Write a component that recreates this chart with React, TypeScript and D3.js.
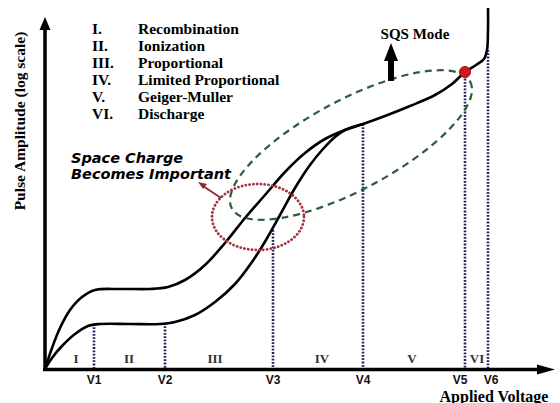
import React from "react";
import * as d3 from "d3";

// ---- data (arbitrary units: x = applied voltage, y = log pulse amplitude) ----
const upperX = [0, 7, 15, 25, 37, 50, 75, 105, 123, 140, 160, 180, 200, 220, 240, 260, 280, 300, 318, 340, 365, 390, 407, 420, 431, 439, 442, 443, 443];
const upperY = [0, 21, 41, 59, 72, 79, 80, 80, 82, 89, 104, 126, 151, 174, 197, 216, 230, 239, 245, 253, 263, 274, 285, 297, 304, 310, 319, 339, 361];
const lowerX = [0, 7, 17, 30, 43, 55, 85, 115, 130, 150, 170, 190, 207, 221, 235, 250, 265, 278, 290, 300, 318];
const lowerY = [0, 11, 23, 35, 43, 45, 45, 45, 47, 54, 67, 85, 107, 129, 154, 181, 204, 220, 232, 239, 245];

const voltLabels = ["V1", "V2", "V3", "V4", "V5", "V6"];
const voltX = [49, 120, 228, 318, 420, 443];
const voltTop = [45, 46, 139, 245, 297, 319];
const voltLabelShift = [0, 0, 0, 0, -5, 3];

const regionLabels = ["I", "II", "III", "IV", "V", "VI"];
const regionX = [31, 84, 170, 277, 367, 432];

const legendNumerals = ["I.", "II.", "III.", "IV.", "V.", "VI."];
const legendNames = ["Recombination", "Ionization", "Proportional", "Limited Proportional", "Geiger-Muller", "Discharge"];

const sqsPoint = { x: 420, y: 297 };
const spaceChargeCircle = { cx: 213, cy: 152, rx: 46, ry: 33 };
const sqsEllipse = { cx: 306, cy: 224, rx: 135, ry: 45, angle: -28 };

const W = 560;
const H = 403;

export default function App() {
  const x = d3.scaleLinear().domain([0, 500]).range([45, 545]);
  const y = d3.scaleLinear().domain([0, 350]).range([369, 19]);

  const line = d3
    .line<[number, number]>()
    .x((d) => x(d[0]))
    .y((d) => y(d[1]))
    .curve(d3.curveCatmullRom.alpha(0.5));

  const upper = line(upperX.map((v, i) => [v, upperY[i]] as [number, number])) || "";
  const lower = line(lowerX.map((v, i) => [v, lowerY[i]] as [number, number])) || "";

  const serif = "'Liberation Serif', 'Times New Roman', serif";
  const sans = "'Liberation Sans', Arial, sans-serif";

  const ex = x(sqsEllipse.cx);
  const ey = y(sqsEllipse.cy);
  const erx = x(sqsEllipse.rx) - x(0);
  const ery = y(0) - y(sqsEllipse.ry);

  const cx = x(spaceChargeCircle.cx);
  const cy = y(spaceChargeCircle.cy);
  const crx = x(spaceChargeCircle.rx) - x(0);
  const cry = y(0) - y(spaceChargeCircle.ry);

  const dotX = x(sqsPoint.x);
  const dotY = y(sqsPoint.y);

  return (
    <svg
      width={W}
      height={H}
      viewBox={`0 0 ${W} ${H}`}
      style={{ position: "fixed", left: 0, top: 0, display: "block", background: "#fff" }}
    >
      <rect x={0} y={0} width={W} height={H} fill="#fff" />

      {/* dotted voltage verticals */}
      {voltX.map((v, i) => (
        <line
          key={"v" + i}
          x1={x(v)}
          x2={x(v)}
          y1={y(voltTop[i])}
          y2={y(0)}
          stroke="#23235a"
          strokeWidth={2.6}
          strokeDasharray="1.8 1.5"
        />
      ))}

      {/* curves */}
      <path d={lower} fill="none" stroke="#000" strokeWidth={2.6} strokeLinejoin="round" />
      <path d={upper} fill="none" stroke="#000" strokeWidth={2.6} strokeLinejoin="round" />

      {/* SQS ellipse */}
      <ellipse
        cx={ex}
        cy={ey}
        rx={erx}
        ry={ery}
        transform={`rotate(${sqsEllipse.angle} ${ex} ${ey})`}
        fill="none"
        stroke="#2f5d3a"
        strokeWidth={2.2}
        strokeDasharray="7 5"
      />

      {/* space charge circle */}
      <ellipse
        cx={cx}
        cy={cy}
        rx={crx}
        ry={cry}
        fill="none"
        stroke="#a8323e"
        strokeWidth={2.8}
        strokeDasharray="0.1 3.7"
        strokeLinecap="round"
      />
      {/* pointer from circle to text */}
      <line x1={221} y1={198} x2={203} y2={186} stroke="#8a2a30" strokeWidth={1.8} />
      <polygon points="198,182 207,184 203,189" fill="#8a2a30" />

      {/* red SQS point */}
      <circle cx={dotX} cy={dotY} r={5.5} fill="#d0161c" stroke="#9a1014" strokeWidth={1} />

      {/* SQS arrow */}
      <rect x={388} y={58} width={6} height={23} fill="#000" />
      <polygon points="384,61 391,43 398,61" fill="#000" />
      <text x={415} y={39} textAnchor="middle" fontFamily={serif} fontWeight="bold" fontSize={15}>
        SQS Mode
      </text>

      {/* axes */}
      <line x1={45} y1={371} x2={45} y2={27} stroke="#000" strokeWidth={3.5} />
      <polygon points="39.5,30 45,17 50.5,30" fill="#000" />
      <line x1={43} y1={369.5} x2={540} y2={369.5} stroke="#000" strokeWidth={3.5} />
      <polygon points="537,364.5 555,369.5 537,374.5" fill="#000" />

      {/* region labels */}
      {regionLabels.map((r, i) => (
        <text
          key={"r" + i}
          x={x(regionX[i])}
          y={363}
          textAnchor="middle"
          fontFamily={serif}
          fontWeight="bold"
          fontSize={13}
          fill="#333"
        >
          {r}
        </text>
      ))}

      {/* voltage labels */}
      {voltLabels.map((v, i) => (
        <text
          key={"vl" + i}
          x={x(voltX[i]) + voltLabelShift[i]}
          y={384}
          textAnchor="middle"
          fontFamily={sans}
          fontWeight="bold"
          fontSize={12}
          fill="#111"
        >
          {v}
        </text>
      ))}

      <text x={494} y={401.5} textAnchor="middle" fontFamily={serif} fontWeight="bold" fontSize={16}>
        Applied Voltage
      </text>

      <text
        transform="translate(25,121) rotate(-90)"
        textAnchor="middle"
        fontFamily={serif}
        fontWeight="bold"
        fontSize={15.5}
      >
        Pulse Amplitude (log scale)
      </text>

      {/* legend */}
      {legendNumerals.map((n, i) => (
        <g key={"lg" + i}>
          <text x={92} y={34 + i * 17} fontFamily={serif} fontWeight="bold" fontSize={15.5}>
            {n}
          </text>
          <text x={138} y={34 + i * 17} fontFamily={serif} fontWeight="bold" fontSize={15.5}>
            {legendNames[i]}
          </text>
        </g>
      ))}

      {/* space charge annotation */}
      <g fontFamily="'DejaVu Sans', sans-serif" fontWeight="bold" fontStyle="italic" fontSize={14.5} fill="#000">
        <text x={71} y={163}>Space Charge</text>
        <text x={71} y={179}>Becomes Important</text>
      </g>
    </svg>
  );
}
